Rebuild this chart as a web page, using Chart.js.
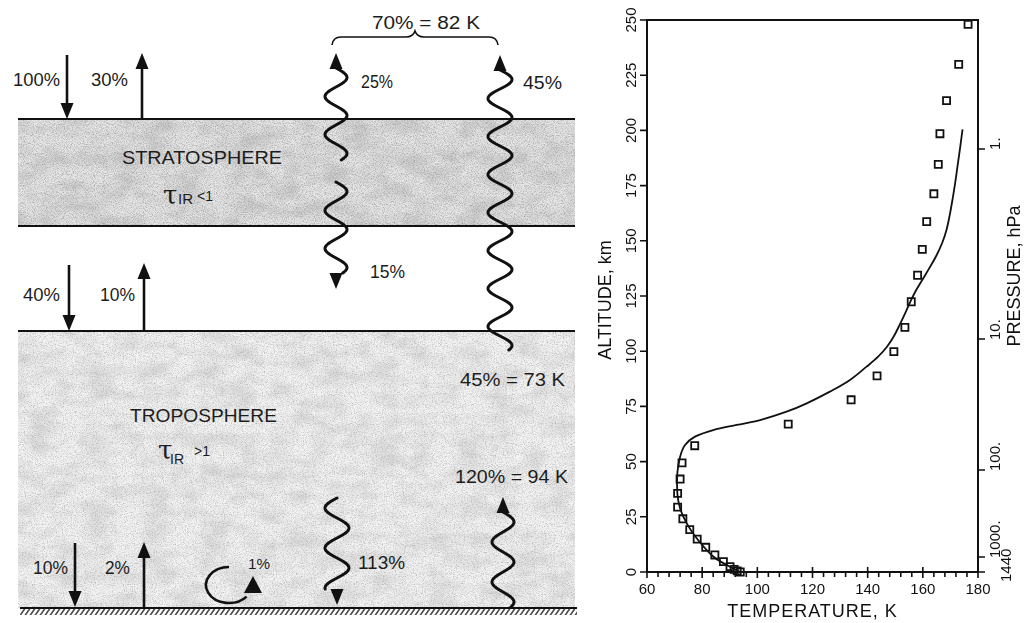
<!DOCTYPE html>
<html><head><meta charset="utf-8">
<script src="https://cdn.jsdelivr.net/npm/chart.js@4.4.1/dist/chart.umd.min.js"></script>
<style>
html,body{margin:0;padding:0;background:#fff;}
#wrap{position:relative;width:1035px;height:623px;overflow:hidden;background:#fff;}
#diagram{position:absolute;left:0;top:0;}
#chartBox{position:absolute;left:580px;top:0;width:455px;height:623px;}
svg text{font-family:"Liberation Sans",Arial,sans-serif;fill:#1c1c1c;}
</style></head><body>
<div id="wrap">
<svg id="diagram" width="580" height="623" viewBox="0 0 580 623">
<defs>
<filter id="grainDark" x="0%" y="0%" width="100%" height="100%">
 <feTurbulence type="fractalNoise" baseFrequency="0.9" numOctaves="2" seed="7"/>
 <feColorMatrix type="matrix" values="0 0 0 0 0.3  0 0 0 0 0.3  0 0 0 0 0.3  1.8 0 0 0 -0.75"/>
</filter>
<filter id="grainLight" x="0%" y="0%" width="100%" height="100%">
 <feTurbulence type="fractalNoise" baseFrequency="0.9" numOctaves="2" seed="11"/>
 <feColorMatrix type="matrix" values="0 0 0 0 0.35  0 0 0 0 0.35  0 0 0 0 0.35  1.6 0 0 0 -0.72"/>
</filter>
<filter id="blotch" x="0%" y="0%" width="100%" height="100%">
 <feTurbulence type="fractalNoise" baseFrequency="0.035 0.06" numOctaves="3" seed="3"/>
 <feColorMatrix type="matrix" values="0 0 0 0 0.45  0 0 0 0 0.45  0 0 0 0 0.45  1.2 0 0 0 -0.45"/>
</filter>
<pattern id="hatch" width="5" height="7" patternUnits="userSpaceOnUse" patternTransform="skewX(-35)">
 <line x1="1" y1="0" x2="1" y2="7" stroke="#222" stroke-width="1.6"/>
</pattern>
</defs>
</svg>
<div id="chartBox"><canvas id="c"></canvas></div>
</div>
<script>
// ---------------- DATA ----------------
// Model temperature profile (solid line): temperature K, altitude km
const lineTemp = [93.7, 88.9, 84.0, 78.0, 74.4, 72.0, 71.0, 71.0, 72.0, 73.8, 77.4, 84.0, 92.5, 101.0, 110.6, 117.9, 126.3, 133.6, 139.6, 143.8, 147.0, 149.6, 151.8, 153.7, 155.5, 157.5, 159.9, 162.3, 164.8, 167.0, 168.6, 169.8, 170.8, 171.7, 172.6, 173.5, 174.4];
const lineAlt  = [0, 3.2, 7.0, 15.3, 22.0, 28.8, 35.6, 44.7, 52.2, 57.5, 61.3, 64.3, 66.6, 68.8, 72.6, 76.4, 81.7, 87.0, 93.0, 97.5, 102.0, 107.0, 112.5, 117.5, 122.5, 127.5, 132.5, 137.5, 143.0, 149.0, 155.0, 162.0, 169.0, 176.0, 184.0, 192.0, 200.5];
// Observed profile (open squares)
const obsTemp = [93.8, 92.7, 91.6, 90.1, 87.7, 84.6, 81.3, 78.2, 75.5, 73.0, 71.1, 71.1, 72.0, 72.7, 77.3, 111.2, 134.0, 143.4, 149.5, 153.5, 155.8, 158.1, 159.8, 161.4, 164.0, 165.6, 166.2, 168.6, 173.0, 176.4];
const obsAlt  = [0, 0.5, 1.2, 2.4, 4.7, 7.7, 11.2, 14.9, 19.2, 24.1, 29.4, 35.6, 42.1, 49.4, 57.2, 67.0, 78.0, 88.8, 99.8, 110.8, 122.4, 134.4, 146.1, 158.7, 171.3, 184.6, 198.5, 213.5, 229.9, 248.0];
// Axis ticks
const tempTicks = [60, 80, 100, 120, 140, 160, 180];
const tempMinorStep = 4;
const altTicks = [0, 25, 50, 75, 100, 125, 150, 175, 200, 225, 250];
const pressureLabels = ['1.', '10.', '100.', '1000.', '1440'];
const pressureAlt = [191.6, 105.5, 46.2, 6.8, 0];

// ---------------- LEFT DIAGRAM ----------------
const svgNS = 'http://www.w3.org/2000/svg';
const dg = document.getElementById('diagram');
function add(tag, attrs, text) {
  const el = document.createElementNS(svgNS, tag);
  for (const k in attrs) el.setAttribute(k, attrs[k]);
  if (text != null) el.textContent = text;
  dg.appendChild(el);
  return el;
}
function wavePath(cx, y0, y1, A, P, ph) {
  let d = '';
  for (let y = y0; y <= y1 + 0.01; y += 1) {
    const x = cx + A * Math.sin(2 * Math.PI * (y - y0) / P + ph);
    d += (y === y0 ? 'M' : 'L') + x.toFixed(2) + ',' + y.toFixed(2) + ' ';
  }
  return d;
}
function head(x, tip, dir) {
  const b = tip - 16 * dir;
  add('polygon', {points: `${x},${tip} ${x - 6.5},${b} ${x + 6.5},${b}`, fill: '#111'});
}
function straight(x, y0, tip) {
  const dir = Math.sign(tip - y0);
  add('line', {x1: x, y1: y0, x2: x, y2: tip - 10 * dir, stroke: '#111', 'stroke-width': 2.6});
  head(x, tip, dir);
}
function wave(cx, y0, y1, A, P, ph) {
  add('path', {d: wavePath(cx, y0, y1, A, P, ph), fill: 'none', stroke: '#111', 'stroke-width': 3, 'stroke-linecap': 'round', 'stroke-linejoin': 'round'});
}
function label(x, y, s, size, len) {
  const a = {x: x, y: y, 'text-anchor': 'middle', 'dominant-baseline': 'central', 'font-size': size};
  if (len) { a.textLength = len; a.lengthAdjust = 'spacingAndGlyphs'; }
  return add('text', a, s);
}

// bands
add('rect', {x: 18, y: 119, width: 557, height: 107, fill: '#e6e6e6'});
add('rect', {x: 18, y: 119, width: 557, height: 107, filter: 'url(#blotch)'});
add('rect', {x: 18, y: 119, width: 557, height: 107, filter: 'url(#grainDark)'});
add('rect', {x: 18, y: 331, width: 557, height: 277, fill: '#f2f2f2'});
add('rect', {x: 18, y: 331, width: 557, height: 277, filter: 'url(#blotch)', opacity: 0.7});
add('rect', {x: 18, y: 331, width: 557, height: 277, filter: 'url(#grainLight)'});
// boundaries
[119, 226, 331].forEach(y => add('line', {x1: 18, y1: y, x2: 575, y2: y, stroke: '#111', 'stroke-width': 2}));
add('line', {x1: 20, y1: 608, x2: 577, y2: 608, stroke: '#111', 'stroke-width': 2});
add('rect', {x: 20, y: 609, width: 557, height: 6, fill: 'url(#hatch)'});

// straight arrows
straight(67, 55, 119);
straight(142, 119, 53);
straight(69, 265, 331);
straight(144, 331, 263);
straight(75, 543, 607);
straight(144, 607, 542);

// wavy arrows
head(336, 53, -1); wave(336, 68, 160, 11, 38, 0);
wave(336, 182, 273, 11, 38, 0); head(336, 289, 1);
head(500, 55, -1); wave(500, 70, 350, 12, 38, 0);
wave(337, 498, 589, 12, 40, Math.PI); head(337, 605, 1);
head(503, 497, -1); wave(503, 512, 607, 11, 40, 0);

// brace
add('path', {d: 'M332,45 Q333,37 341,37 L406,37 Q413,37 415,31 Q417,37 424,37 L489,37 Q497,37 498,45', fill: 'none', stroke: '#111', 'stroke-width': 1.6});

// circular arrow
add('path', {d: 'M229,567 A23,18 0 1 0 246.6,596.6', fill: 'none', stroke: '#111', 'stroke-width': 2.6});
add('polygon', {points: '253,576 244,593 262,593', fill: '#111'});

// labels
label(36.5, 80, '100%', 18, 47);
label(109.5, 80, '30%', 18, 37);
label(202, 157, 'STRATOSPHERE', 19, 160);
label(41.5, 295, '40%', 18, 37);
label(117.5, 295, '10%', 18, 35);
label(203.5, 415, 'TROPOSPHERE', 19, 147);
label(50.5, 568, '10%', 18, 35);
label(117.5, 568, '2%', 18, 25);
label(259, 563, '1%', 15, 22);
label(381.5, 563, '113%', 18, 47);
label(426, 23, '70% = 82 K', 18, 108);
label(377, 82, '25%', 18, 32);
label(542.5, 83, '45%', 18, 39);
label(387.5, 272, '15%', 18, 35);
label(512.5, 380, '45% = 73 K', 18, 105);
label(511.5, 477, '120% = 94 K', 18, 113);

// tau labels
add('text', {x: 163, y: 204, 'font-size': 26, style: 'font-family:"DejaVu Serif",serif'}, 'τ');
add('text', {x: 178, y: 204, 'font-size': 15}, 'IR');
add('text', {x: 197, y: 201, 'font-size': 14}, '<1');
add('text', {x: 158, y: 459, 'font-size': 26, style: 'font-family:"DejaVu Serif",serif'}, 'τ');
add('text', {x: 170, y: 464, 'font-size': 14}, 'IR');
add('text', {x: 194, y: 456, 'font-size': 14}, '>1');

// ---------------- CHART ----------------
const FONT = '"Liberation Sans", Arial, sans-serif';
const axisPlugin = {
  id: 'axesFrame',
  afterDraw(chart) {
    const {ctx, chartArea: a, scales: {x, y}} = chart;
    ctx.save();
    ctx.strokeStyle = '#111';
    ctx.fillStyle = '#111';
    ctx.lineWidth = 2;
    ctx.strokeRect(a.left, a.top, a.right - a.left, a.bottom - a.top);
    // x ticks
    ctx.lineWidth = 1.6;
    ctx.beginPath();
    for (let v = x.min; v <= x.max + 1e-6; v += tempMinorStep) {
      const px = x.getPixelForValue(v);
      const major = tempTicks.includes(Math.round(v));
      ctx.moveTo(px, major ? a.bottom - 5 : a.bottom);
      ctx.lineTo(px, a.bottom + (major ? 6 : 5));
    }
    // left y ticks
    altTicks.forEach(v => {
      const py = y.getPixelForValue(v);
      ctx.moveTo(a.left - 7, py); ctx.lineTo(a.left, py);
    });
    // right pressure ticks
    pressureAlt.forEach(v => {
      const py = y.getPixelForValue(v);
      ctx.moveTo(a.right, py); ctx.lineTo(a.right + 7, py);
    });
    ctx.stroke();

    // x labels
    ctx.font = '15px ' + FONT;
    ctx.textAlign = 'center';
    ctx.textBaseline = 'middle';
    tempTicks.forEach(v => ctx.fillText(String(v), x.getPixelForValue(v), a.bottom + 18));
    // left labels (rotated)
    altTicks.forEach(v => {
      ctx.save();
      ctx.translate(a.left - 15, y.getPixelForValue(v));
      ctx.rotate(-Math.PI / 2);
      ctx.fillText(String(v), 0, 0);
      ctx.restore();
    });
    // right labels (rotated, starting at tick)
    pressureLabels.forEach((s, i) => {
      const last = i === pressureLabels.length - 1;
      ctx.save();
      ctx.translate(a.right + (last ? 29 : 18), y.getPixelForValue(pressureAlt[i]) + (last ? 10 : 1));
      ctx.rotate(-Math.PI / 2);
      ctx.textAlign = 'left';
      ctx.fillText(s, 0, 0);
      ctx.restore();
    });
    // titles
    ctx.font = '18px ' + FONT;
    ctx.textAlign = 'center';
    ctx.save();
    ctx.letterSpacing = '1px';
    ctx.fillText('TEMPERATURE, K', (a.left + a.right) / 2, a.bottom + 40);
    ctx.restore();
    ctx.save();
    ctx.translate(a.left - 41, 300);
    ctx.rotate(-Math.PI / 2);
    ctx.fillText('ALTITUDE, km', 0, 0);
    ctx.restore();
    ctx.save();
    ctx.translate(a.right + 37, 276);
    ctx.rotate(-Math.PI / 2);
    ctx.fillText('PRESSURE, hPa', 0, 0);
    ctx.restore();
    ctx.restore();
  }
};

new Chart(document.getElementById('c'), {
  type: 'scatter',
  data: {
    datasets: [
      {
        label: 'Model',
        data: lineTemp.map((t, i) => ({x: t, y: lineAlt[i]})),
        showLine: true,
        borderColor: '#111',
        borderWidth: 1.8,
        pointRadius: 0,
        tension: 0.35,
        fill: false,
        clip: false
      },
      {
        label: 'Observed',
        data: obsTemp.map((t, i) => ({x: t, y: obsAlt[i]})),
        showLine: false,
        pointStyle: 'rect',
        pointRadius: 5,
        pointBorderWidth: 1.8,
        pointBorderColor: '#111',
        pointBackgroundColor: 'rgba(0,0,0,0)',
        clip: false
      }
    ]
  },
  options: {
    responsive: true,
    maintainAspectRatio: false,
    animation: false,
    layout: {padding: {left: 67, right: 57, top: 20, bottom: 51}},
    scales: {
      x: {type: 'linear', min: 60, max: 180, display: false},
      y: {type: 'linear', min: 0, max: 250, display: false}
    },
    plugins: {legend: {display: false}, tooltip: {enabled: false}}
  },
  plugins: [axisPlugin]
});
</script>
</body></html>
